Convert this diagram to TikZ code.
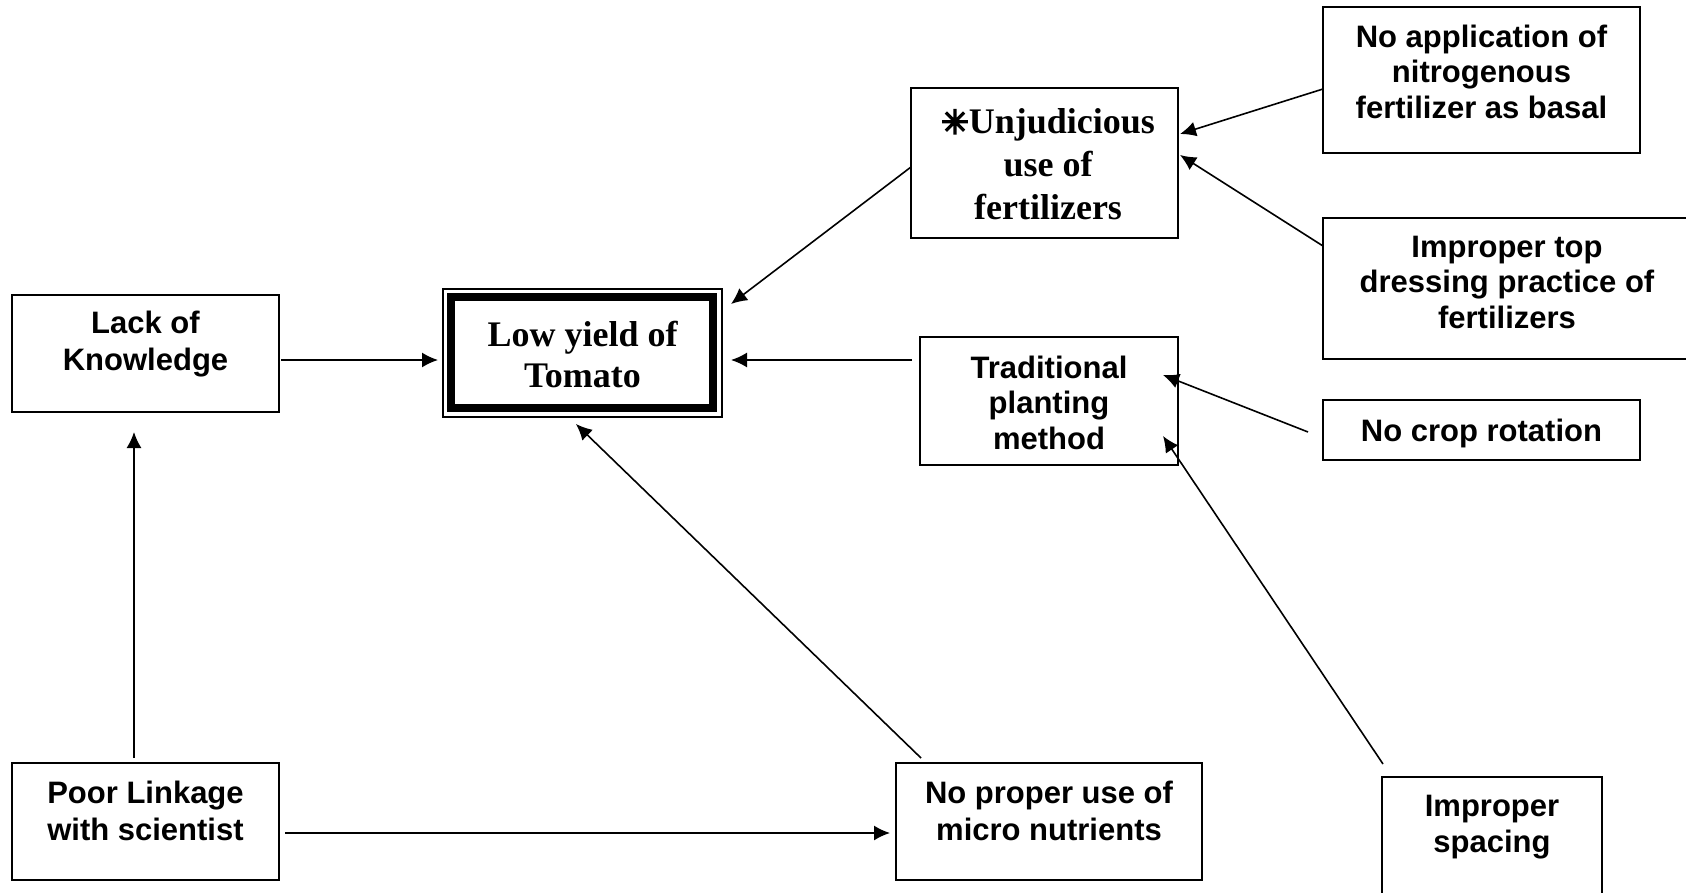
\documentclass[tikz,border=0pt]{standalone}
\usepackage{fontspec}
\setmainfont{Liberation Serif}
\newfontfamily\arialfont{Liberation Sans}
\newfontfamily\starfont[FakeBold=5]{DejaVu Sans}
\usetikzlibrary{arrows.meta}
\begin{document}
\begin{tikzpicture}[x=1pt,y=-1pt,
  box/.style={draw, line width=1.8pt, inner sep=0pt, outer sep=0pt, anchor=north west},
  sans/.style={font=\arialfont\bfseries\fontsize{31}{35.5}\selectfont, align=center, anchor=north, inner sep=0pt},
  sanswide/.style={sans, font=\arialfont\bfseries\fontsize{31}{37}\selectfont},
  serif/.style={font=\bfseries\fontsize{36}{43}\selectfont, align=center, anchor=north, inner sep=0pt},
  arr/.style={line width=1.6pt, -{Latex[length=16pt,width=15pt]}}]

% canvas
\fill[white] (0,0) rectangle (1686,893);
\clip (0,0) rectangle (1686,893);

% boxes
\node[box, minimum width=267pt, minimum height=117pt] (lack)   at (12,295)   {};
\node[box, minimum width=267pt, minimum height=117pt] (poor)   at (12,763)   {};
\node[box, minimum width=306pt, minimum height=117pt] (nop)    at (896,763)  {};
\node[box, minimum width=258pt, minimum height=128pt] (trad)   at (920,337)  {};
\node[box, minimum width=267pt, minimum height=150pt] (unj)    at (911,88)   {};
\node[box, minimum width=317pt, minimum height=146pt] (noapp)  at (1323,7)   {};
\node[box, minimum width=368pt, minimum height=141pt] (imptop) at (1323,218) {};
\node[box, minimum width=317pt, minimum height=60pt]  (nocrop) at (1323,400) {};
\node[box, minimum width=220pt, minimum height=140pt] (impsp)  at (1382,777) {};

% central box with double frame
\node[box, line width=1.5pt, minimum width=279pt, minimum height=128pt] (low) at (443,289) {};
\draw[line width=7.5pt] ([xshift=8pt,yshift=-8pt]low.north west) rectangle ([xshift=-9pt,yshift=9pt]low.south east);

% labels
\node[sanswide] (lackT) at (145.5,311)  {Lack of\\Knowledge};
\node[sanswide] (poorT) at (145.5,780.5) {Poor Linkage\\with scientist};
\node[sanswide] (nopT)  at (1049,781)   {No proper use of\\micro nutrients};
\node[sans] (tradT)   at (1049,355.5)  {Traditional\\planting\\method};
\node[sans] (noappT)  at (1481.5,24.5) {No application of\\nitrogenous\\fertilizer as basal};
\node[sans] (imptopT) at (1507,235.5)  {Improper top\\dressing practice of\\fertilizers};
\node[sans] (nocropT) at (1481.5,418.5){No crop rotation};
\node[sans] (impspT)  at (1492,795)    {Improper\\spacing};
\node[serif] (unjT)   at (1048,108.5)  {{\starfont\fontsize{33}{33}\selectfont ✳}Unjudicious\\use of\\fertilizers};
\node[serif, font=\bfseries\fontsize{36}{41}\selectfont] (lowT) at (582.5,320.5) {Low yield of\\Tomato};

% connectors
\draw[arr, shorten >=5pt] ([xshift=2pt,yshift=-6.5pt]lack.east) -- ([yshift=-7pt]low.west);
\draw[arr] ([xshift=-8pt,yshift=41pt]trad.west) -- ([xshift=9pt,yshift=-7pt]low.east);
\draw[arr] ([yshift=-4pt]unj.west) -- ([xshift=9pt,yshift=49pt]low.east);
\draw[arr] ([yshift=-9pt]noapp.west) -- ([xshift=2pt,yshift=29pt]unj.east);
\draw[arr] ([yshift=42.5pt]imptop.west) -- ([xshift=2pt,yshift=8pt]unj.east);
\draw[arr] ([xshift=-15pt,yshift=-2pt]nocrop.west) -- ([xshift=-15pt,yshift=26pt]trad.east);
\draw[arr] ([xshift=1pt,yshift=13pt]impsp.north west) -- ([xshift=-15pt,yshift=-35pt]trad.east);
\draw[arr] ([xshift=25pt,yshift=5pt]nop.north west) -- ([xshift=-6.5pt,yshift=-7pt]low.south);
\draw[arr] ([xshift=-11.5pt,yshift=5pt]poor.north) -- ([xshift=-11.5pt,yshift=-20pt]lack.south);
\draw[arr] ([xshift=6pt,yshift=-11.5pt]poor.east) -- ([xshift=-6pt,yshift=-11.5pt]nop.west);
\end{tikzpicture}
\end{document}
